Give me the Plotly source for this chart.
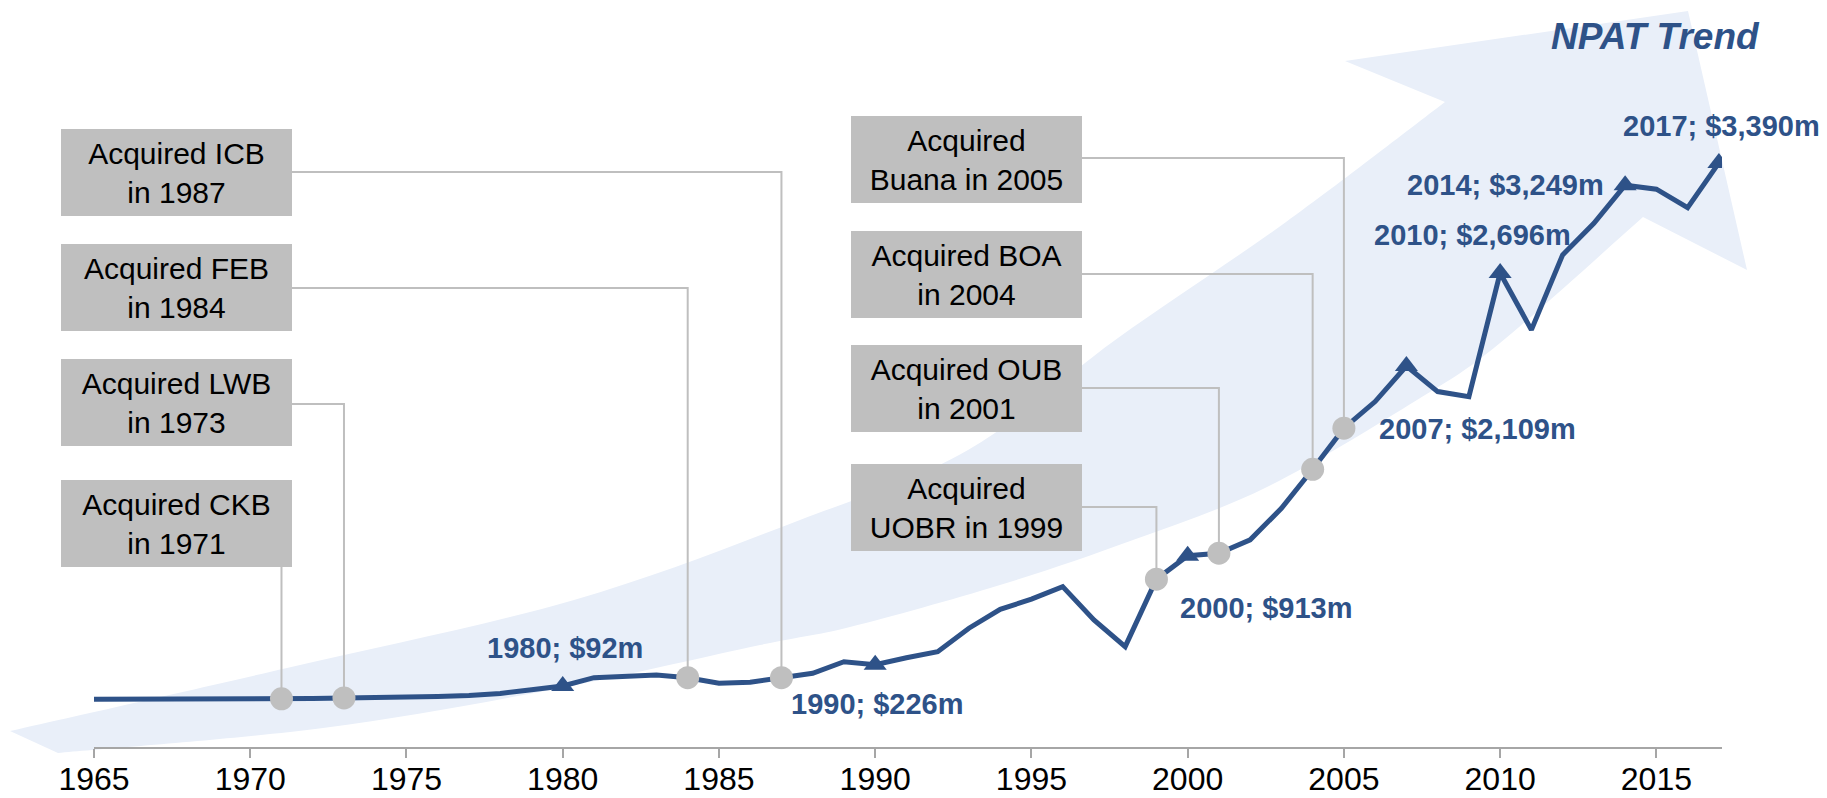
import plotly.graph_objs as go


###############################################################################
# NPAT trend with acquisition milestones
###############################################################################

# NPAT by year ($m)
years = list(range(1965, 2018))
npat = [8, 8, 9, 9, 10, 10, 11, 13, 16, 18,
        21, 25, 32, 45, 68, 92, 144, 151, 161, 144,
        109, 115, 144, 172, 245, 226, 270, 308, 456, 575,
        639, 718, 508, 340, 765, 913, 929, 1013, 1212, 1458,
        1717, 1885, 2109, 1948, 1916, 2696, 2337, 2810, 3009, 3249,
        3224, 3108, 3390]

# years called out with a value label
label_years = [1980, 1990, 2000, 2007, 2010, 2014, 2017]

# acquisitions
acq_years = [1971, 1973, 1984, 1987, 1999, 2001, 2004, 2005]
acq_texts = ['Acquired CKB<br>in 1971', 'Acquired LWB<br>in 1973',
             'Acquired FEB<br>in 1984', 'Acquired ICB<br>in 1987',
             'Acquired<br>UOBR in 1999', 'Acquired OUB<br>in 2001',
             'Acquired BOA<br>in 2004', 'Acquired<br>Buana in 2005']

tick_years = list(range(1965, 2016, 5))

# --- layout stuff (pixels) ---------------------------------------------------
W, H = 1827, 798
ML, MR, MT, MB = 94, 105, 0, 51
X_RANGE = [1965, 2017.1]
Y_RANGE = [-293, 4417]

BLUE = '#2E5288'
GREY = '#BFBFBF'
ARROW = '#E9EFF9'
FONT = 'Liberation Sans, Arial, sans-serif'

BOX_W, BOX_H = 231, 87
# left, top, connector y (None -> line drops from box bottom)
box_pos = [(61, 480, None), (61, 359, 404), (61, 244, 288), (61, 129, 172),
           (851, 464, 507), (851, 345, 388), (851, 231, 274), (851, 116, 158)]

# label offsets from the point (xshift, yshift)
label_shift = [(2, 38), (2, -39), (79, -52), (71, -63), (-28, 38), (-120, 0), (3, 37)]

# outline of the background arrow
arrow_top = [(10, 731), (287, 668), (574, 600), (800, 520), (968, 450),
             (1118, 338), (1286, 222), (1445, 102)]
arrow_head = [(1345, 61), (1688, 11), (1747, 270), (1643, 217)]
arrow_bottom = [(1643, 217), (1500, 343), (1417, 400), (1267, 487), (1133, 540),
                (1000, 585), (850, 627), (760, 645), (560, 688), (323, 728), (58, 753)]


def plot_w():
    return W - ML - MR


def plot_h():
    return H - MT - MB


def px_x(px):
    return X_RANGE[0] + (px - ML) / plot_w() * (X_RANGE[1] - X_RANGE[0])


def px_y(py):
    return Y_RANGE[0] + (H - MB - py) / plot_h() * (Y_RANGE[1] - Y_RANGE[0])


def paper(pt):
    return '%.5f,%.5f' % ((pt[0] - ML) / plot_w(), (H - MB - pt[1]) / plot_h())


def smooth(points):
    """catmull-rom through points -> list of bezier segments"""
    segs = []
    n = len(points)
    for i in range(n - 1):
        p0 = points[i - 1] if i > 0 else points[i]
        p1 = points[i]
        p2 = points[i + 1]
        p3 = points[i + 2] if i + 2 < n else p2
        c1 = (p1[0] + (p2[0] - p0[0]) / 6, p1[1] + (p2[1] - p0[1]) / 6)
        c2 = (p2[0] - (p3[0] - p1[0]) / 6, p2[1] - (p3[1] - p1[1]) / 6)
        segs.append('C %s %s %s' % (paper(c1), paper(c2), paper(p2)))
    return segs


def arrow_shape():
    path = ['M ' + paper(arrow_top[0])]
    path += smooth(arrow_top)
    path += ['L ' + paper(p) for p in arrow_head]
    path += smooth(arrow_bottom)
    path.append('Z')
    return dict(type='path', xref='paper', yref='paper', path=' '.join(path),
                fillcolor=ARROW, line=dict(width=0), layer='below')


def make_figure():
    value = dict(zip(years, npat))

    traces = [
        go.Scatter(x=years, y=npat, mode='lines',
                   line=dict(color=BLUE, width=5), hoverinfo='x+y'),
        go.Scatter(x=label_years, y=[value[y] for y in label_years], mode='markers',
                   marker=dict(symbol='triangle-up', size=20, color=BLUE)),
        go.Scatter(x=acq_years, y=[value[y] for y in acq_years], mode='markers',
                   marker=dict(symbol='circle', size=23, color=GREY)),
    ]

    shapes = [arrow_shape()]
    annotations = []

    # acquisition boxes + connectors
    for yr, txt, (left, top, cy) in zip(acq_years, acq_texts, box_pos):
        annotations.append(dict(
            xref='paper', yref='paper',
            x=(left - ML) / plot_w(), y=(H - MB - top) / plot_h(),
            xanchor='left', yanchor='top', text=txt, showarrow=False,
            width=BOX_W, height=BOX_H, bgcolor=GREY, borderwidth=0, borderpad=0,
            align='center', valign='middle',
            font=dict(size=30, color='black', family=FONT)))
        if cy is None:
            path = 'M %f,%f L %f,%f' % (yr, px_y(top + BOX_H), yr, value[yr])
        else:
            path = 'M %f,%f L %f,%f L %f,%f' % (px_x(left + BOX_W), px_y(cy),
                                                yr, px_y(cy), yr, value[yr])
        shapes.append(dict(type='path', xref='x', yref='y', path=path,
                           line=dict(color=GREY, width=2), layer='below'))

    # value labels
    for yr, (dx, dy) in zip(label_years, label_shift):
        annotations.append(dict(
            x=yr, y=value[yr], xref='x', yref='y', showarrow=False,
            text='%d; $%sm' % (yr, format(value[yr], ',')),
            xshift=dx, yshift=dy, xanchor='center', yanchor='middle',
            font=dict(size=29, color=BLUE, family=FONT, weight='bold')))

    annotations.append(dict(
        xref='paper', yref='paper', x=(1655 - ML) / plot_w(), y=(H - MB - 36) / plot_h(),
        xanchor='center', yanchor='middle', showarrow=False, text='<i>NPAT Trend</i>',
        font=dict(size=37, color=BLUE, family=FONT, weight='bold')))

    layout = go.Layout(
        width=W, height=H,
        margin=dict(l=ML, r=MR, t=MT, b=MB, autoexpand=False),
        paper_bgcolor='white', plot_bgcolor='rgba(0,0,0,0)',
        showlegend=False, font=dict(family=FONT),
        xaxis=dict(range=X_RANGE, tickvals=tick_years, showgrid=False, zeroline=False,
                   showline=True, linecolor='#A6A6A6', linewidth=2,
                   ticks='outside', ticklen=9, tickwidth=2, tickcolor='#A6A6A6',
                   tickfont=dict(size=32, color='black', family=FONT),
                   ticklabelstandoff=-6, fixedrange=True),
        yaxis=dict(range=Y_RANGE, visible=False, fixedrange=True),
        shapes=shapes, annotations=annotations)
    return go.Figure(data=traces, layout=layout)


if __name__ == '__main__':
    fig = make_figure()
    # page body margin would push the figure off by 8px
    fig.write_html("out.html", config={'displayModeBar': False},
                   post_script="document.body.style.margin='0';"
                               "document.body.style.overflow='hidden';")
